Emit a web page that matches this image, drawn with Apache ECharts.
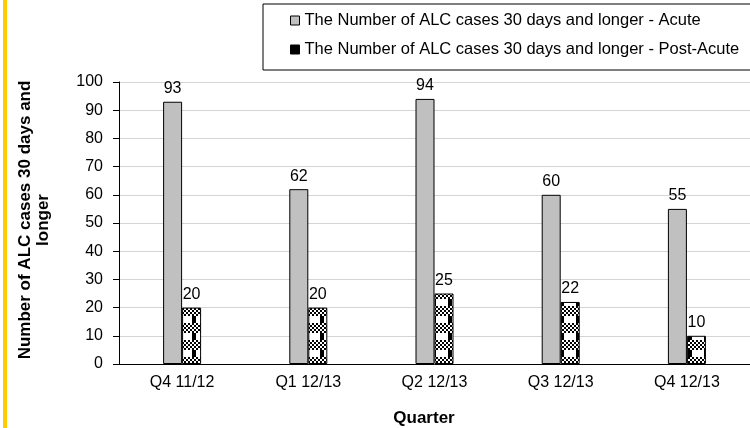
<!DOCTYPE html>
<html>
<head>
<meta charset="utf-8">
<script src="https://cdn.jsdelivr.net/npm/echarts@6/dist/echarts.min.js"></script>
<style>
  html, body { margin: 0; padding: 0; background: #fff; }
  #main { width: 750px; height: 428px; }
</style>
</head>
<body>
<div id="main"></div>
<script>
// 数据
var quarters = ['Q4 11/12', 'Q1 12/13', 'Q2 12/13', 'Q3 12/13', 'Q4 12/13']
var acuteName = 'The Number of ALC cases 30 days and longer - Acute'
var postName = 'The Number of ALC cases 30 days and longer - Post-Acute'
var acuteValues = [93, 62, 94, 60, 55]
var postValues = [20, 20, 25, 22, 10]
var yTicks = { min: 0, max: 100, interval: 10 }

// 黑白格子填充（细格子带 + 两边黑条带）
function makeChecker() {
  var c = document.createElement('canvas')
  c.width = 16
  c.height = 17
  var ctx = c.getContext('2d')
  ctx.fillStyle = '#fff'
  ctx.fillRect(0, 0, 16, 17)
  ctx.fillStyle = '#000'
  for (var y = 0; y < 10; y += 2) {
    for (var x = 0; x < 16; x += 2) {
      if (((x + y) / 2) % 2 === 0) ctx.fillRect(x, y, 2, 2)
    }
  }
  ctx.fillRect(0, 10, 4, 7)
  return c
}

(function () {
  var myChart = echarts.init(document.getElementById('main'))
  var font = "'Liberation Sans', Arial, sans-serif"
  var option = {
    animation: false,
    textStyle: { fontFamily: font },
    legend: {
      orient: 'vertical',
      left: 263,
      top: 4,
      padding: [8, 40, 12, 27],
      itemGap: 12,
      itemWidth: 9,
      itemHeight: 9,
      borderColor: '#000',
      borderWidth: 1,
      icon: 'rect',
      textStyle: { fontSize: 16.5, color: '#000', fontFamily: font, lineHeight: 16 },
      data: [
        { name: acuteName, itemStyle: { color: '#c0c0c0', borderColor: '#000', borderWidth: 1 } },
        { name: postName, itemStyle: { color: '#000', borderColor: '#000', borderWidth: 1 } }
      ]
    },
    grid: {
      left: 119,
      top: 82,
      width: 645,
      height: 282
    },
    xAxis: {
      type: 'category',
      data: quarters,
      axisTick: { show: false },
      axisLine: { lineStyle: { color: '#000', width: 1 } },
      axisLabel: { color: '#000', fontSize: 16, margin: 11, fontFamily: font }
    },
    yAxis: {
      type: 'value',
      min: yTicks.min,
      max: yTicks.max,
      interval: yTicks.interval,
      axisLine: { show: true, lineStyle: { color: '#000', width: 1 } },
      axisTick: { show: true, length: 6, lineStyle: { color: '#000' } },
      axisLabel: { color: '#000', fontSize: 16, margin: 16, fontFamily: font },
      splitLine: { lineStyle: { color: '#d4d4d4', width: 1 } }
    },
    series: [{
        name: acuteName,
        type: 'bar',
        data: acuteValues,
        barWidth: 19,
        barGap: '0%',
        itemStyle: { color: '#c0c0c0', borderColor: '#000', borderWidth: 1 },
        label: { show: true, position: 'top', color: '#000', fontSize: 16, distance: 5 }
      },
      {
        name: postName,
        type: 'bar',
        data: postValues,
        barWidth: 19,
        itemStyle: {
          color: { image: makeChecker(), repeat: 'repeat' },
          borderColor: '#000',
          borderWidth: 1
        },
        label: { show: true, position: 'top', color: '#000', fontSize: 16, distance: 5 }
      }
    ],
    graphic: [{
        type: 'rect',
        shape: { x: 3, y: 0, width: 4, height: 428 },
        style: { fill: '#ffcc00' }
      },
      {
        type: 'text',
        x: 34,
        y: 220,
        rotation: Math.PI / 2,
        style: {
          text: 'Number of ALC cases 30 days and\nlonger',
          font: 'bold 17px ' + font,
          fill: '#000',
          align: 'center',
          verticalAlign: 'middle',
          lineHeight: 18
        }
      },
      {
        type: 'text',
        x: 424,
        y: 418,
        style: {
          text: 'Quarter',
          font: 'bold 17px ' + font,
          fill: '#000',
          align: 'center',
          verticalAlign: 'middle'
        }
      }
    ]
  }
  myChart.setOption(option)
})()
</script>
</body>
</html>
